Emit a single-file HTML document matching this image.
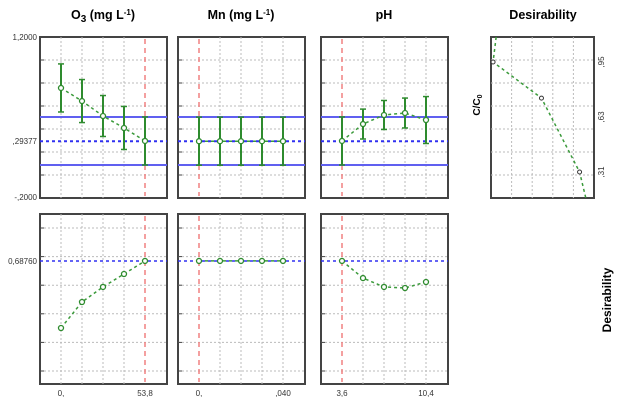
<!DOCTYPE html>
<html><head><meta charset="utf-8"><style>
body{margin:0;background:#fff;width:618px;height:403px;overflow:hidden}
svg{display:block;font-family:"Liberation Sans",sans-serif}
</style></head><body>
<svg id="c" width="618" height="403"></svg>
<script>
const factors=['O3','Mn','pH'];
const topVals=[[0.757,0.643,0.513,0.409,0.296],[0.294,0.294,0.294,0.294,0.294],[0.296,0.443,0.522,0.539,0.478]];
const topErr=[[0.209,0.187,0.178,0.187,0.209],[0.209,0.209,0.209,0.209,0.209],[0.209,0.13,0.126,0.13,0.204]];
const botVals=[[0.242,0.415,0.515,0.601,0.688],[0.688,0.688,0.688,0.688,0.688],[0.688,0.574,0.515,0.508,0.548]];
const redIdx=[4,0,0];
const xLabelsLeft=['0,','0,','3,6'];
const xLabelsRight=['53,8',',040','10,4'];
const predicted=0.29377, ciHi=0.504, ciLo=0.087, desirOpt=0.6876;
const desD=[0.05,0.02,0.49,0.86,0.92];
const desC=[1.095,0.95,0.74,0.31,0.16];
const desTicks=[0.95,0.63,0.31];
const desTickLabels=[',95',',63',',31'];

const svg=document.getElementById('c');const NS='http://www.w3.org/2000/svg';
function mk(t,a,p,name){const e=document.createElementNS(NS,t);for(const k in a)e.setAttribute(k,a[k]);(p||svg).appendChild(e);

return e;}
const panelX=[40,178,321],PW=127;
const yTop=v=>37+(1.2-v)*115;
const yBot=v=>214+(1-v)*150.4;
const xi=(p,i)=>panelX[p]+21+i*21;
function panel(x,y0,y1,name){
 mk('rect',{x:x,y:y0,width:PW,height:y1-y0,fill:'#fff',stroke:'#444','stroke-width':2},null,name);
}
let t=mk('text',{x:103,y:19,'font-size':12.5,'font-weight':'bold','text-anchor':'middle'},null,'o3-title');t.innerHTML='O<tspan font-size="10" dy="3">3</tspan><tspan dy="-3"> (mg L</tspan><tspan font-size="8" dy="-4">-1</tspan><tspan dy="4">)</tspan>';
t=mk('text',{x:241,y:19,'font-size':12.5,'font-weight':'bold','text-anchor':'middle'},null,'mn-title');t.innerHTML='Mn (mg L<tspan font-size="8" dy="-4">-1</tspan><tspan dy="4">)</tspan>';
t=mk('text',{x:384,y:19,'font-size':12.5,'font-weight':'bold','text-anchor':'middle'},null,'ph-title');t.textContent='pH';
t=mk('text',{x:543,y:19,'font-size':12.5,'font-weight':'bold','text-anchor':'middle'},null,'desirability-title');t.textContent='Desirability';
for(let p=0;p<3;p++){
 const x0=panelX[p],x1=x0+PW;
 panel(x0,37,198,'top-panel-'+factors[p]);
 for(let k=1;k<7;k++){const y=37+k*23;mk('line',{x1:x0,x2:x1,y1:y,y2:y,stroke:'#bbb','stroke-dasharray':'2,2'},null,'grid-h');mk('line',{x1:x0,x2:x0+4,y1:y,y2:y,stroke:'#444'},null,'tick');}
 for(let i=0;i<5;i++){const x=xi(p,i);if(i!==redIdx[p])mk('line',{x1:x,x2:x,y1:37,y2:198,stroke:'#bbb','stroke-dasharray':'2,2'},null,'grid-v');}
 mk('line',{x1:xi(p,redIdx[p]),x2:xi(p,redIdx[p]),y1:39,y2:196,stroke:'#f08080','stroke-dasharray':'5,4','stroke-width':1.5},null,'current-level-line');
 mk('line',{x1:x0,x2:x1,y1:yTop(ciHi),y2:yTop(ciHi),stroke:'#6060f0','stroke-width':2},null,'ci-upper');
 mk('line',{x1:x0,x2:x1,y1:yTop(ciLo),y2:yTop(ciLo),stroke:'#6060f0','stroke-width':2},null,'ci-lower');
 mk('line',{x1:x0,x2:x1,y1:yTop(predicted),y2:yTop(predicted),stroke:'#3030f0','stroke-width':2,'stroke-dasharray':'3,3'},null,'predicted-line');
 mk('polyline',{points:topVals[p].map((v,i)=>xi(p,i)+','+yTop(v)).join(' '),fill:'none',stroke:'#3a9a3a','stroke-width':1.5,'stroke-dasharray':'3,3'},null,'profile-line');
 topVals[p].forEach((v,i)=>{const x=xi(p,i),e=topErr[p][i];
  mk('line',{x1:x,x2:x,y1:yTop(v+e),y2:yTop(v-e),stroke:'#2e8b2e','stroke-width':2},null,'error-bar');
  mk('line',{x1:x-3,x2:x+3,y1:yTop(v+e),y2:yTop(v+e),stroke:'#2e8b2e','stroke-width':1.5},null,'error-cap');
  mk('line',{x1:x-3,x2:x+3,y1:yTop(v-e),y2:yTop(v-e),stroke:'#2e8b2e','stroke-width':1.5},null,'error-cap');
  mk('circle',{cx:x,cy:yTop(v),r:2.5,fill:'#fff',stroke:'#2e8b2e','stroke-width':1.3},null,'point');});
 panel(x0,214,384,'bottom-panel-'+factors[p]);
 for(let k=0;k<6;k++){const y=228+k*28.6;mk('line',{x1:x0,x2:x1,y1:y,y2:y,stroke:'#bbb','stroke-dasharray':'2,2'},null,'grid-h');mk('line',{x1:x0,x2:x0+4,y1:y,y2:y,stroke:'#444'},null,'tick');}
 for(let i=0;i<5;i++){const x=xi(p,i);if(i!==redIdx[p])mk('line',{x1:x,x2:x,y1:214,y2:384,stroke:'#bbb','stroke-dasharray':'2,2'},null,'grid-v');}
 mk('line',{x1:xi(p,redIdx[p]),x2:xi(p,redIdx[p]),y1:216,y2:382,stroke:'#f08080','stroke-dasharray':'5,4','stroke-width':1.5},null,'current-level-line');
 mk('line',{x1:x0,x2:x1,y1:yBot(desirOpt),y2:yBot(desirOpt),stroke:'#3030f0','stroke-width':1.5,'stroke-dasharray':'3,3'},null,'desirability-line');
 mk('polyline',{points:botVals[p].map((v,i)=>xi(p,i)+','+yBot(v)).join(' '),fill:'none',stroke:'#3a9a3a','stroke-width':1.5,'stroke-dasharray':'3,3'},null,'desirability-profile');
 botVals[p].forEach((v,i)=>mk('circle',{cx:xi(p,i),cy:yBot(v),r:2.5,fill:'#fff',stroke:'#2e8b2e','stroke-width':1.3},null,'desirability-point'));
 t=mk('text',{x:xi(p,0),y:396,'font-size':8,'text-anchor':'middle',fill:'#333'},null,'x-label-min');t.textContent=xLabelsLeft[p];
 t=mk('text',{x:xi(p,4),y:396,'font-size':8,'text-anchor':'middle',fill:'#333'},null,'x-label-max');t.textContent=xLabelsRight[p];
}
[['1,2000',40],[',29377',yTop(predicted)+3],['-,2000',200]].forEach(a=>{t=mk('text',{x:37,y:a[1],'font-size':8,'text-anchor':'end',fill:'#333'},null,'y-label');t.textContent=a[0];});
t=mk('text',{x:37,y:yBot(desirOpt)+3,'font-size':8,'text-anchor':'end',fill:'#333'},null,'y-label');t.textContent='0,68760';
const dx0=491,dW=103;const dX=d=>dx0+d*dW;const dY=c=>62+(0.95-c)*171.9;
mk('rect',{x:dx0,y:37,width:dW,height:161,fill:'#fff',stroke:'#444','stroke-width':2},null,'desirability-panel');
for(let k=1;k<7;k++){const y=37+k*23;mk('line',{x1:dx0,x2:dx0+dW,y1:y,y2:y,stroke:'#bbb','stroke-dasharray':'2,2'},null,'grid-h');}
for(let k=1;k<5;k++){const x=dx0+k*20.6;mk('line',{x1:x,x2:x,y1:37,y2:198,stroke:'#bbb','stroke-dasharray':'2,2'},null,'grid-v');}
mk('polyline',{points:desD.map((d,i)=>dX(d)+','+dY(desC[i])).join(' '),fill:'none',stroke:'#3a9a3a','stroke-width':1.5,'stroke-dasharray':'3,3'},null,'desirability-function');
for(let i=1;i<4;i++)mk('circle',{cx:dX(desD[i]),cy:dY(desC[i]),r:2,fill:'#fff',stroke:'#333','stroke-width':1},null,'desirability-marker');
desTicks.forEach((c,i)=>{t=mk('text',{x:0,y:0,'font-size':8,fill:'#333','text-anchor':'middle',transform:`translate(604,${dY(c)}) rotate(-90)`},null,'c-tick-label');t.textContent=desTickLabels[i];});
t=mk('text',{x:0,y:0,'font-size':10,'font-weight':'bold','text-anchor':'middle',transform:'translate(480,105) rotate(-90)'},null,'c-c0-axis-title');t.innerHTML='C/C<tspan font-size="7" dy="2">0</tspan>';
t=mk('text',{x:0,y:0,'font-size':12,'font-weight':'bold','text-anchor':'middle',transform:'translate(611,300) rotate(-90)'},null,'desirability-axis-title');t.textContent='Desirability';
</script></body></html>
